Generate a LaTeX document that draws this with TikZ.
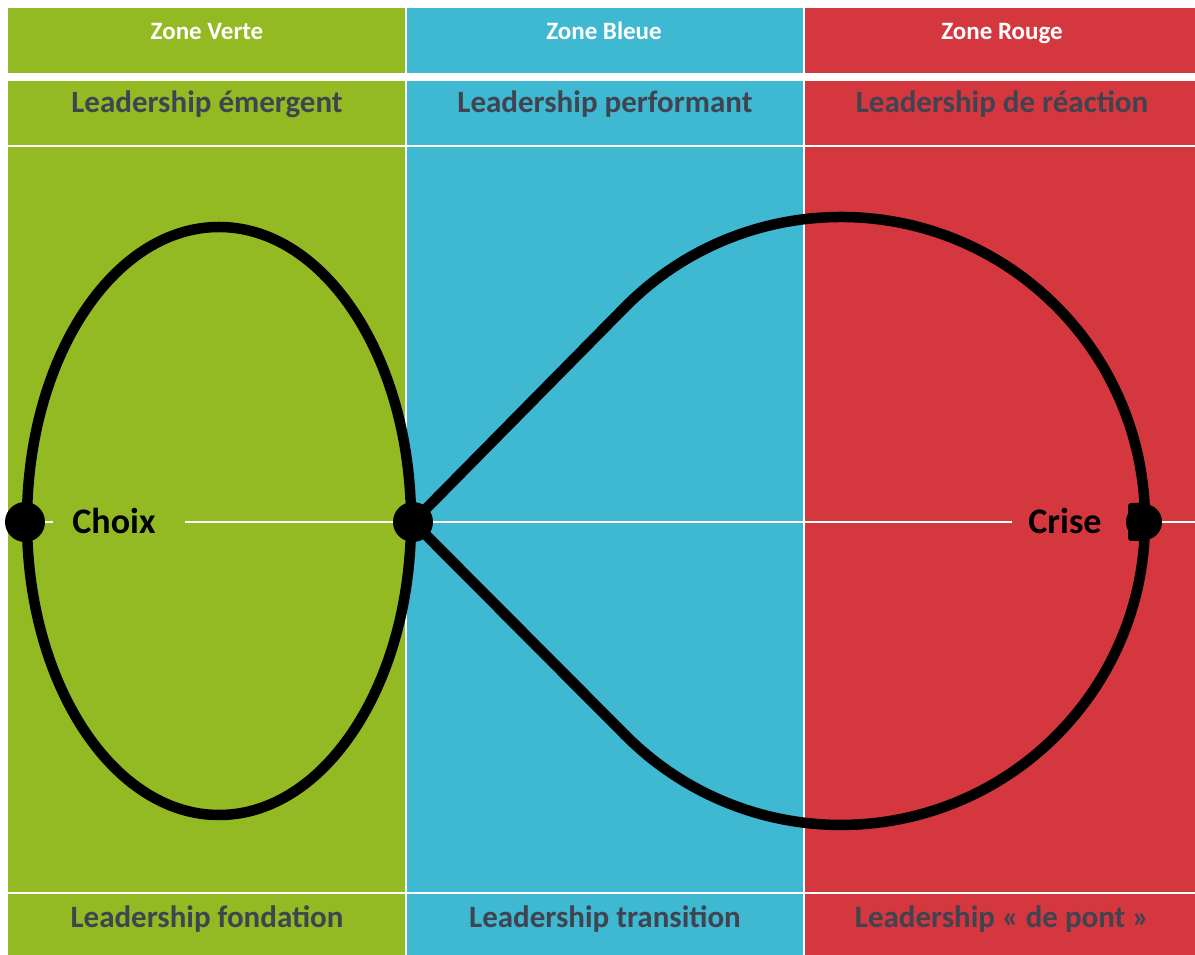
\documentclass[tikz,border=0pt]{standalone}
\usepackage{fontspec}
\setmainfont{Carlito}
\definecolor{zgreen}{HTML}{93BA22}
\definecolor{zblue}{HTML}{3FB8D2}
\definecolor{zred}{HTML}{D4373D}
\definecolor{ztext}{HTML}{3F4450}
\begin{document}
\begin{tikzpicture}[x=1pt,y=1pt,
  hdr/.style={text=white,font=\bfseries\fontsize{25}{28}\selectfont,anchor=base},
  lbl/.style={text=ztext,font=\bfseries\fontsize{31}{34}\selectfont,anchor=base},
  pt/.style={text=black,font=\bfseries\fontsize{36}{40}\selectfont,anchor=base},
  sep/.style={white,line width=1.6pt},
  loop/.style={black,line width=10.5pt},
  dotc/.style={circle,fill=black,minimum size=40pt,inner sep=0pt}]
\useasboundingbox (0,0) rectangle (1195,955);
\fill[white] (0,0) rectangle (1195,955);
% columns
\fill[zgreen] (8,0) rectangle (405,947);
\fill[zblue] (407,0) rectangle (803,947);
\fill[zred] (805,0) rectangle (1195,947);
% row separators
\fill[white] (0,874) rectangle (1195,882);
\draw[sep] (0,809) -- (1195,809);
\draw[sep] (0,62) -- (1195,62);
% middle axis
\draw[sep] (45,433) -- (53,433);
\draw[sep] (185,433) -- (1012,433);
\draw[sep] (1162,433) -- (1195,433);
% headers
\node[hdr] (h1) at (207,915) {Zone Verte};
\node[hdr] (h2) at (604,915) {Zone Bleue};
\node[hdr] (h3) at (1002,915) {Zone Rouge};
\node[lbl] (r1) at (207,842) {Leadership émergent};
\node[lbl] (r2) at (605,842) {Leadership performant};
\node[lbl] (r3) at (1002,842) {Leadership de réaction};
\node[lbl] (b1) at (207,27) {Leadership fondation};
\node[lbl] (b2) at (605,27) {Leadership transition};
\node[lbl] (b3) at (1002,27) {Leadership « de pont »};
% loops
\draw[loop] (219,434) ellipse [x radius=192, y radius=294];
\draw[loop,line join=round] (413,433) -- (625.1,648.0)
  arc[start angle=135.26, end angle=-135.26, radius=304] -- cycle;
% dots
\node[dotc] (choixdot) at (25,433) {};
\node[dotc] (centerdot) at (413,433) {};
\fill (1144,433) circle (18);
\fill[rounded corners=3pt] (1128,414) rectangle (1146,452);
\coordinate (crisedot) at (1145,433);
\node[pt] (choix) at (114,421) {Choix};
\node[pt] (crise) at (1065,421) {Crise};
\end{tikzpicture}
\end{document}
